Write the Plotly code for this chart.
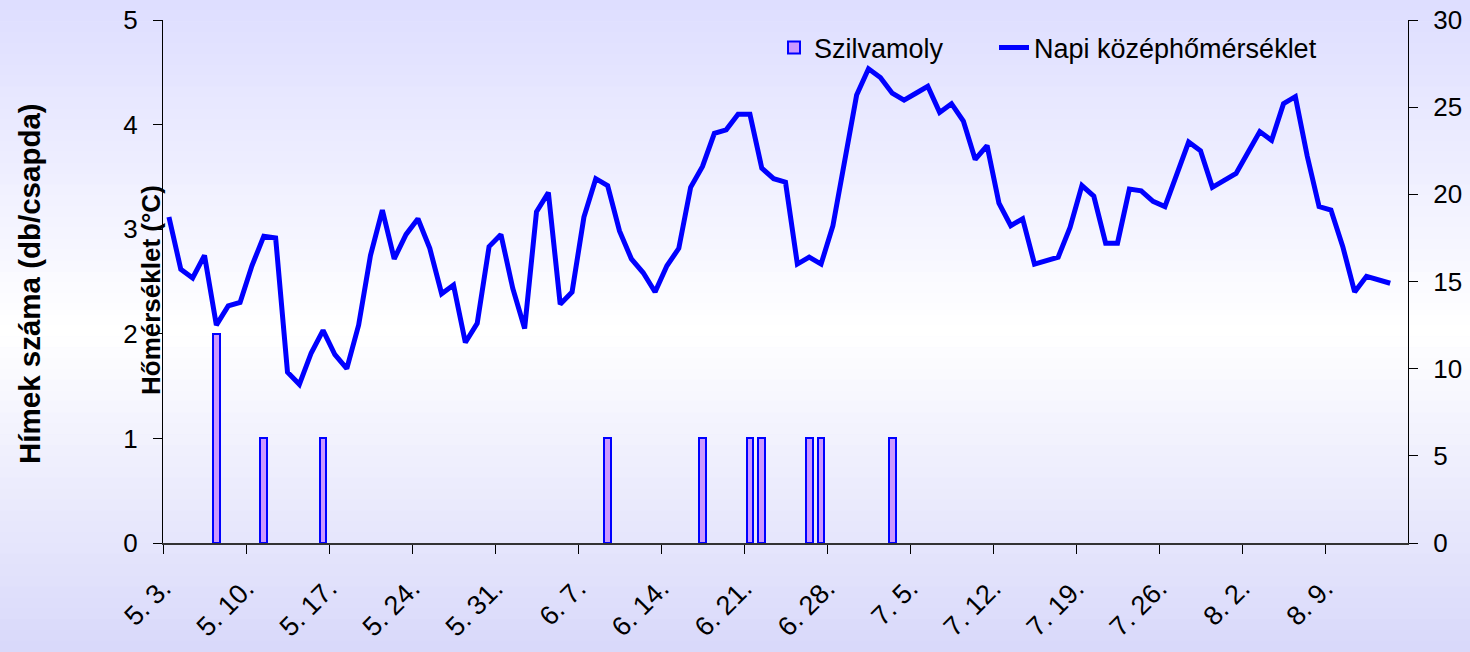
import pandas as pd
import plotly.graph_objects as go

# ---- data ----
start_date = "2010-05-03"
temps = [18.7, 15.7, 15.2, 16.5, 12.5, 13.6, 13.8, 15.9, 17.6, 17.5,
         9.8, 9.1, 10.9, 12.2, 10.8, 10.0, 12.5, 16.5, 19.1, 16.3,
         17.7, 18.6, 16.9, 14.3, 14.8, 11.5, 12.6, 17.0, 17.7, 14.6,
         12.3, 19.0, 20.1, 13.7, 14.4, 18.7, 20.9, 20.5, 17.9, 16.3,
         15.5, 14.4, 15.9, 16.9, 20.4, 21.6, 23.5, 23.7, 24.6, 24.6,
         21.5, 20.9, 20.7, 16.0, 16.4, 16.0, 18.2, 22.0, 25.7, 27.2,
         26.7, 25.8, 25.4, 25.8, 26.2, 24.7, 25.2, 24.2, 22.0, 22.8,
         19.5, 18.2, 18.6, 16.0, 16.2, 16.4, 18.1, 20.5, 19.9, 17.2,
         17.2, 20.3, 20.2, 19.6, 19.3, 21.2, 23.0, 22.5, 20.4, 20.8,
         21.2, 22.4, 23.6, 23.1, 25.2, 25.6, 22.2, 19.3, 19.1, 17.0,
         14.4, 15.3, 15.1, 14.9]
moth_dates = ["2010-05-07", "2010-05-11", "2010-05-16", "2010-06-09", "2010-06-17",
              "2010-06-21", "2010-06-22", "2010-06-26", "2010-06-27", "2010-07-03"]
moth_counts = [2, 1, 1, 1, 1, 1, 1, 1, 1, 1]
tick_dates = ["2010-05-03", "2010-05-10", "2010-05-17", "2010-05-24", "2010-05-31",
              "2010-06-07", "2010-06-14", "2010-06-21", "2010-06-28", "2010-07-05",
              "2010-07-12", "2010-07-19", "2010-07-26", "2010-08-02", "2010-08-09"]
tick_labels = ["5. 3.", "5. 10.", "5. 17.", "5. 24.", "5. 31.", "6. 7.", "6. 14.",
               "6. 21.", "6. 28.", "7. 5.", "7. 12.", "7. 19.", "7. 26.", "8. 2.", "8. 9."]
x_range = ["2010-05-03", "2010-08-16"]

half_day = pd.Timedelta(hours=12)
temp_x = pd.date_range(start_date, periods=len(temps), freq="D") + half_day
moth_x = pd.to_datetime(moth_dates) + half_day

FONT = "Liberation Sans, Arial, sans-serif"
BLUE = "#0000FF"

fig = go.Figure()
fig.add_trace(go.Bar(
    x=moth_x, y=moth_counts, name="Szilvamoly",
    width=0.56 * 86400000,
    marker=dict(color="#CC99FF", line=dict(color=BLUE, width=2)),
    yaxis="y", legend="legend",
))
fig.add_trace(go.Scatter(
    x=temp_x, y=temps, name="Napi középhőmérséklet", mode="lines",
    line=dict(color=BLUE, width=5), yaxis="y2", legend="legend2",
))

# background gradient (lavender -> white -> lavender)
W, H = 1470, 652
ml, mr, mt, mb = 163, 62, 20, 109
pw, ph = W - ml - mr, H - mt - mb
top_c = (221, 221, 255)
bot_c = (216, 216, 250)
mid_y = 330
shapes = []
n = 60
for k in range(n):
    y0p = H * k / n
    y1p = H * (k + 1) / n
    yc = (y0p + y1p) / 2
    if yc < mid_y:
        t = yc / mid_y
        c = tuple(round(top_c[j] + (255 - top_c[j]) * t) for j in range(3))
    else:
        t = (yc - mid_y) / (H - mid_y)
        c = tuple(round(255 + (bot_c[j] - 255) * t) for j in range(3))
    shapes.append(dict(
        type="rect", xref="paper", yref="paper", layer="below",
        x0=-ml / pw, x1=(W - ml) / pw,
        y0=(H - mb - y1p) / ph, y1=(H - mb - y0p) / ph + 0.001,
        fillcolor="rgb(%d,%d,%d)" % c, line=dict(width=0),
    ))

axis_font = dict(family=FONT, size=26, color="black")
xtick_font = dict(family=FONT, size=27, color="black")
legend_font = dict(family=FONT, size=27, color="black")

fig.update_layout(
    width=W, height=H,
    margin=dict(l=ml, r=mr, t=mt, b=mb, autoexpand=False),
    paper_bgcolor="rgb(230,230,255)",
    plot_bgcolor="rgba(0,0,0,0)",
    shapes=shapes,
    showlegend=True,
    bargap=0,
    font=dict(family=FONT, color="black"),
    xaxis=dict(
        type="date", range=x_range, automargin=False,
        tickvals=pd.to_datetime(tick_dates), ticktext=tick_labels,
        tickangle=-45, tickfont=xtick_font,
        ticks="outside", ticklen=9, tickcolor="black", tickwidth=1,
        ticklabelstandoff=8,
        showline=True, linecolor="#333333", linewidth=1.5,
        showgrid=False, zeroline=False,
    ),
    yaxis=dict(
        range=[0, 5], dtick=1, tickfont=axis_font, automargin=False,
        ticks="outside", ticklen=9, tickcolor="black",
        ticklabelstandoff=10,
        showline=True, linecolor="black", linewidth=1,
        showgrid=False, zeroline=False,
    ),
    yaxis2=dict(
        range=[0, 30], dtick=5, tickfont=axis_font, overlaying="y", side="right",
        ticks="outside", ticklen=9, tickcolor="black", automargin=False,
        ticklabelstandoff=10,
        showline=True, linecolor="black", linewidth=1,
        showgrid=False, zeroline=False, anchor="x",
    ),
    yaxis3=dict(
        range=[0, 5], dtick=1, overlaying="y", side="left", anchor="x",
        ticks="inside", ticklen=9, tickcolor="black", showticklabels=False,
        showline=False, showgrid=False, zeroline=False, automargin=False,
    ),
    yaxis4=dict(
        range=[0, 30], dtick=5, overlaying="y", side="right", anchor="x",
        ticks="inside", ticklen=9, tickcolor="black", showticklabels=False,
        showline=False, showgrid=False, zeroline=False, automargin=False,
    ),
    legend=dict(
        orientation="h", x=(774 - ml) / pw, y=(H - mb - 48) / ph,
        xanchor="left", yanchor="middle",
        bgcolor="rgba(0,0,0,0)", font=legend_font,
    ),
    legend2=dict(
        orientation="h", x=(994 - ml) / pw, y=(H - mb - 48) / ph,
        xanchor="left", yanchor="middle",
        bgcolor="rgba(0,0,0,0)", font=legend_font,
    ),
    annotations=[
        dict(text="<b>Hímek száma (db/csapda)</b>", textangle=-90,
             xref="paper", yref="paper", x=(29 - ml) / pw, y=(H - mb - 284) / ph,
             xanchor="center", yanchor="middle", showarrow=False,
             font=dict(family=FONT, size=29.5, color="black")),
        dict(text="<b>Hőmérséklet (°C)</b>", textangle=-90,
             xref="paper", yref="paper", x=(151 - ml) / pw, y=(H - mb - 290) / ph,
             xanchor="center", yanchor="middle", showarrow=False,
             font=dict(family=FONT, size=26, color="black")),
    ],
)

fig.write_html("out.html", config={"displayModeBar": False},
               post_script="document.body.style.margin='0';")
